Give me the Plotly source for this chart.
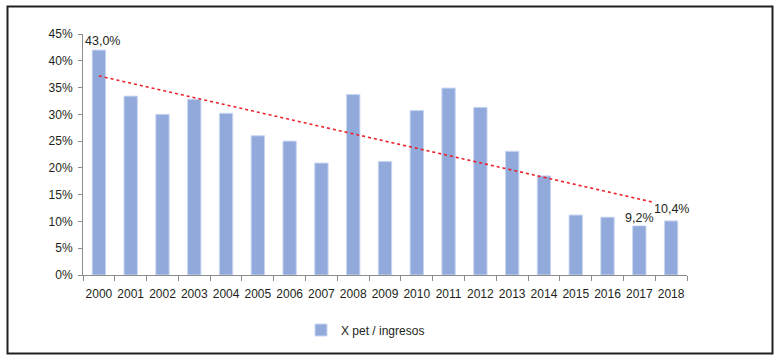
import numpy as np
import plotly.graph_objects as go

years = [str(y) for y in range(2000, 2019)]
values = [42.0, 33.4, 30.0, 32.8, 30.2, 26.0, 25.0, 20.9, 33.7, 21.2,
          30.7, 34.9, 31.3, 23.1, 18.5, 11.2, 10.8, 9.2, 10.1]
label_years = ["2000", "2017", "2018"]
label_texts = ["43,0%", "9,2%", "10,4%"]
series_name = "X pet / ingresos"
y_ticks = [0, 5, 10, 15, 20, 25, 30, 35, 40, 45]
y_tick_text = ["0%", "5%", "10%", "15%", "20%", "25%", "30%", "35%", "40%", "45%"]

FONT = "Liberation Sans, Arial, sans-serif"
TXT = "#231f20"

idx = np.arange(len(values))
slope, intercept = np.polyfit(idx, values, 1)
trend = [float(intercept + slope * i) for i in idx]

W, H = 777, 360
L, T = 83, 34
R = W - 687
B = H - 275
pw, ph = W - L - R, H - T - B

fig = go.Figure()
fig.add_trace(go.Bar(
    x=years, y=values, name=series_name,
    marker=dict(color="#91aadb", line=dict(color="#c9d6f0", width=1)),
))
fig.add_trace(go.Scatter(
    x=years, y=trend, mode="lines", showlegend=False, hoverinfo="skip",
    line=dict(color="#f0202a", width=1.6, dash="dot"),
))

shifts = [(4, 1), (0, 0), (0, 4)]
for yr, txt, (sx, sy) in zip(label_years, label_texts, shifts):
    i = years.index(yr)
    fig.add_annotation(x=i, y=values[i], xref="x", yref="y", text=txt, showarrow=False,
                       yanchor="bottom", xshift=sx, yshift=sy, bgcolor="white", borderpad=0,
                       font=dict(family=FONT, size=12.5, color=TXT))

def px2x(p):
    return (p - L) / pw

def px2y(p):
    return (H - B - p) / ph

fig.add_shape(type="rect", xref="paper", yref="paper",
              x0=px2x(7.5), x1=px2x(772.5), y0=px2y(353.5), y1=px2y(6.5),
              line=dict(color="#231f20", width=2))

fig.update_layout(
    width=W, height=H,
    margin=dict(l=L, r=R, t=T, b=B, pad=0),
    paper_bgcolor="white", plot_bgcolor="white",
    font=dict(family=FONT, size=12, color=TXT),
    bargap=0.58,
    showlegend=True,
    legend=dict(orientation="h", x=px2x(301), y=px2y(330), xanchor="left", yanchor="middle",
                font=dict(family=FONT, size=12, color=TXT)),
)
fig.update_xaxes(type="category", categoryorder="array", categoryarray=years,
                 range=[-0.5, len(years) - 0.5],
                 showline=True, linecolor="#8c8c8c", linewidth=1,
                 ticks="outside", tickson="boundaries", ticklen=5, tickcolor="#8c8c8c",
                 showgrid=False, tickangle=0, ticklabelstandoff=8)
fig.update_yaxes(range=[0, 45], tickmode="array", tickvals=y_ticks, ticktext=y_tick_text,
                 showline=True, linecolor="#8c8c8c", linewidth=1, ticks="outside", ticklen=4,
                 tickcolor="#8c8c8c", showgrid=False, zeroline=False, ticklabelstandoff=3)

fig.write_html(
    "out.html",
    config={"displayModeBar": False},
    post_script="document.body.style.margin='0';document.body.style.overflow='hidden';",
)
